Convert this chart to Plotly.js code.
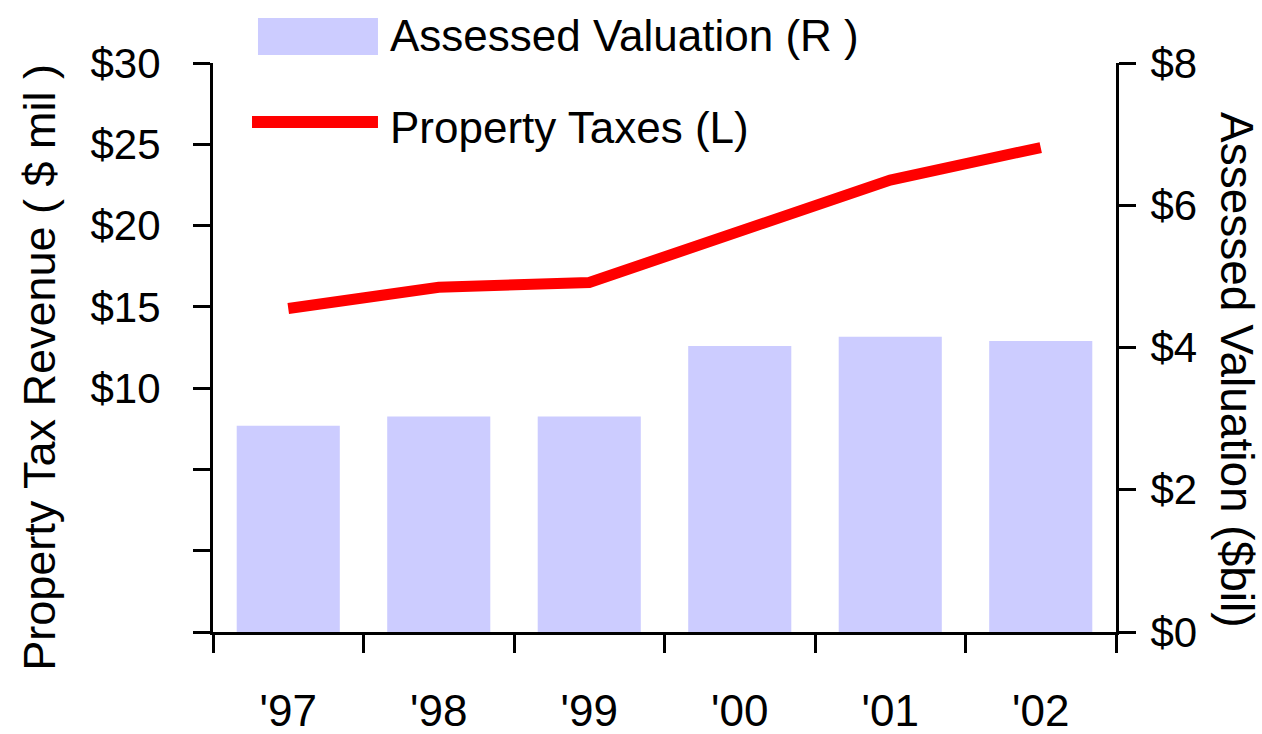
<!DOCTYPE html>
<html>
<head>
<meta charset="utf-8">
<script src="https://cdn.plot.ly/plotly-3.0.1.min.js"></script>
<style>html,body{margin:0;padding:0;background:#fff;}#chart{width:1262px;height:734px;}</style>
</head>
<body>
<div id="chart"></div>
<script>
const years = ["'97", "'98", "'99", "'00", "'01", "'02"];
const assessedValuation = [2.90, 3.03, 3.03, 4.02, 4.15, 4.09];   // $bil (right axis)
const propertyTaxes = [14.9, 16.2, 16.5, 19.7, 22.8, 24.8];       // $mil (left axis)
const leftTickVals = [-5, 0, 5, 10, 15, 20, 25, 30];
const leftTickText = ["", "", "", "$10", "$15", "$20", "$25", "$30"];
const rightTickVals = [0, 2, 4, 6, 8];
const rightTickText = ["$0", "$2", "$4", "$6", "$8"];
const seriesNames = ["Assessed Valuation (R )", "Property Taxes (L)"];
const leftTitle = "Property Tax Revenue ( $ mil )";
const rightTitle = "Assessed Valuation ($bil)";

const FONT = "'Liberation Sans Narrow', 'Arial Narrow', 'Liberation Sans', Arial, sans-serif";
const BAR = "#CCCCFF";
const RED = "#FF0000";

const traces = [
  {type: "bar", x: years, y: assessedValuation, yaxis: "y2", name: seriesNames[0],
   marker: {color: BAR, line: {width: 0}}, hoverinfo: "x+y"},
  {type: "scatter", mode: "lines", x: years, y: propertyTaxes, yaxis: "y", name: seriesNames[1],
   line: {color: RED, width: 11}, hoverinfo: "x+y"}
];

const layout = {
  width: 1262, height: 734,
  margin: {l: 213, r: 146, t: 63, b: 102},
  paper_bgcolor: "#fff", plot_bgcolor: "#fff",
  font: {family: FONT, size: 44, color: "#000"},
  showlegend: false,
  bargap: 0.315,
  xaxis: {
    type: "category", range: [-0.5, 5.5],
    showline: true, linecolor: "#000", linewidth: 3,
    ticks: "outside", tickson: "boundaries", ticklen: 18, tickwidth: 3, tickcolor: "#000",
    ticklabelstandoff: 38,
    showgrid: false, zeroline: false,
    tickfont: {family: FONT, size: 44}
  },
  yaxis: {
    range: [-5, 30], tickmode: "array", tickvals: leftTickVals, ticktext: leftTickText,
    showline: true, linecolor: "#000", linewidth: 3,
    ticks: "outside", ticklen: 17, tickwidth: 3, tickcolor: "#000",
    ticklabelstandoff: 24,
    showgrid: false, zeroline: false,
    tickfont: {family: FONT, size: 42}
  },
  yaxis2: {
    overlaying: "y", side: "right", range: [0, 8],
    tickmode: "array", tickvals: rightTickVals, ticktext: rightTickText,
    showline: true, linecolor: "#000", linewidth: 3,
    ticks: "outside", ticklen: 17, tickwidth: 3, tickcolor: "#000",
    ticklabelstandoff: 6,
    showgrid: false, zeroline: false,
    tickfont: {family: FONT, size: 42}
  },
  shapes: [
    {type: "rect", xref: "paper", yref: "paper", x0: 0.0498, x1: 0.1827, y0: 1.014, y1: 1.079,
     fillcolor: BAR, line: {width: 0}},
    {type: "line", xref: "paper", yref: "paper", x0: 0.0432, x1: 0.1827, y0: 0.8963, y1: 0.8963,
     line: {color: RED, width: 12}}
  ],
  annotations: [
    {xref: "paper", yref: "paper", x: 0.1938, y: 1.049, xanchor: "left", yanchor: "middle",
     text: seriesNames[0], showarrow: false, font: {family: FONT, size: 44}},
    {xref: "paper", yref: "paper", x: 0.1938, y: 0.8875, xanchor: "left", yanchor: "middle",
     text: seriesNames[1], showarrow: false, font: {family: FONT, size: 44}},
    {xref: "paper", yref: "paper", x: -0.1916, y: 0.466, xanchor: "center", yanchor: "middle",
     text: leftTitle, textangle: -90, showarrow: false, font: {family: FONT, size: 45}},
    {xref: "paper", yref: "paper", x: 1.1340, y: 0.4605, xanchor: "center", yanchor: "middle",
     text: rightTitle, textangle: 90, showarrow: false, font: {family: FONT, size: 46}}
  ]
};

Plotly.newPlot("chart", traces, layout, {displayModeBar: false, staticPlot: true});
</script>
</body>
</html>
